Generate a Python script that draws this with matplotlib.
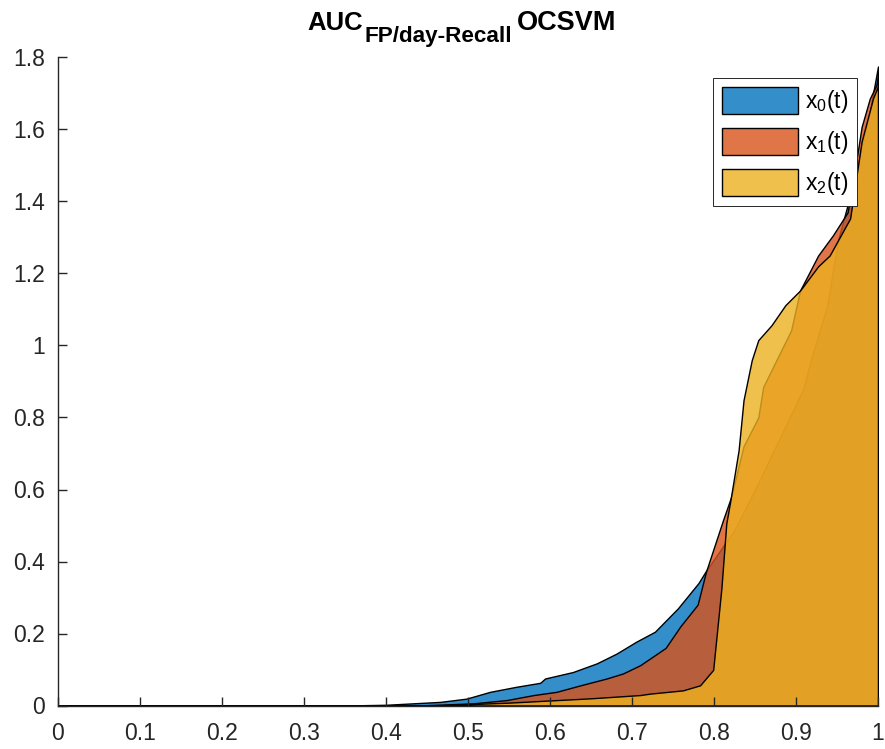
import matplotlib
matplotlib.use("Agg")
import matplotlib.pyplot as plt
from matplotlib.colors import to_rgba

# Datos (tres areas superpuestas)
x0 = [0, 0.35, 0.40, 0.433, 0.466, 0.498, 0.527, 0.559, 0.588, 0.594, 0.628, 0.657,
      0.681, 0.705, 0.728, 0.756, 0.781, 0.79, 0.825, 0.85, 0.879, 0.909, 0.919,
      0.938, 0.951, 0.97, 0.99, 1.0]
y0 = [0, 0.0, 0.002, 0.006, 0.010, 0.019, 0.038, 0.052, 0.063, 0.075, 0.093, 0.117,
      0.144, 0.177, 0.205, 0.27, 0.34, 0.373, 0.488, 0.60, 0.737, 0.88, 0.967,
      1.11, 1.29, 1.45, 1.65, 1.775]

x1 = [0, 0.40, 0.45, 0.506, 0.547, 0.580, 0.608, 0.637, 0.669, 0.689, 0.710, 0.741,
      0.759, 0.78, 0.79, 0.811, 0.821, 0.836, 0.854, 0.86, 0.894, 0.905, 0.927,
      0.945, 0.963, 0.972, 0.98, 0.99, 0.998, 1.0]
y1 = [0, 0, 0.001, 0.006, 0.015, 0.029, 0.038, 0.056, 0.075, 0.089, 0.112, 0.16,
      0.22, 0.28, 0.37, 0.515, 0.58, 0.72, 0.80, 0.885, 1.042, 1.153, 1.25,
      1.306, 1.37, 1.49, 1.607, 1.686, 1.723, 1.75]

x2 = [0, 0.46, 0.55, 0.65, 0.71, 0.722, 0.762, 0.783, 0.799, 0.809, 0.815, 0.82,
      0.830, 0.836, 0.846, 0.854, 0.870, 0.887, 0.905, 0.927, 0.941, 0.966, 0.980,
      0.994, 1.0]
y2 = [0, 0, 0.008, 0.02, 0.029, 0.033, 0.042, 0.056, 0.099, 0.325, 0.506, 0.57,
      0.709, 0.848, 0.959, 1.015, 1.056, 1.112, 1.153, 1.22, 1.25, 1.353, 1.566,
      1.687, 1.72]

labels = ["x$_0$(t)", "x$_1$(t)", "x$_2$(t)"]
colors = ["#0072BD", "#D95319", "#EDB120"]

xticks = [0, 0.1, 0.2, 0.3, 0.4, 0.5, 0.6, 0.7, 0.8, 0.9, 1]
xticklabels = ["0", "0.1", "0.2", "0.3", "0.4", "0.5", "0.6", "0.7", "0.8", "0.9", "1"]
yticks = [0, 0.2, 0.4, 0.6, 0.8, 1.0, 1.2, 1.4, 1.6, 1.8]
yticklabels = ["0", "0.2", "0.4", "0.6", "0.8", "1", "1.2", "1.4", "1.6", "1.8"]

plt.rcParams["font.family"] = ["Liberation Sans", "DejaVu Sans"]
plt.rcParams["mathtext.fontset"] = "custom"
plt.rcParams["mathtext.rm"] = "Liberation Sans"
plt.rcParams["mathtext.it"] = "Liberation Sans:italic"
plt.rcParams["mathtext.bf"] = "Liberation Sans:bold"

dark = "#262626"
W, H = 885, 749

fig = plt.figure(figsize=(W / 100, H / 100), dpi=100)
ax = fig.add_axes([58 / W, 1 - 705.5 / H, 820 / W, 648 / H])

for xs, ys, c, lab in zip([x0, x1, x2], [y0, y1, y2], colors, labels):
    ax.fill_between(xs, ys, 0, facecolor=to_rgba(c, 0.8), edgecolor="black",
                    linewidth=1.0, label=lab)

ax.set_xlim(0, 1)
ax.set_ylim(0, 1.8)
ax.set_xticks(xticks)
ax.set_xticklabels(xticklabels)
ax.set_yticks(yticks)
ax.set_yticklabels(yticklabels)
ax.spines["top"].set_visible(False)
ax.spines["right"].set_visible(False)
for s in ["left", "bottom"]:
    ax.spines[s].set_color(dark)
    ax.spines[s].set_linewidth(1.0)
ax.tick_params(direction="in", length=6.3, width=1.0, colors=dark, labelsize=16.5)
ax.tick_params(axis="x", pad=12)
ax.tick_params(axis="y", pad=9.5)

# titulo con subindice grande (estilo MATLAB), armado por piezas
renderer = fig.canvas.get_renderer()
t1 = fig.text(307 / W, 1 - 30 / H, "AUC", fontsize=18.5, fontweight="bold",
              va="baseline", ha="left")
w1 = t1.get_window_extent(renderer).width
t2 = fig.text((307 + w1 + 2) / W, 1 - 42 / H, "FP/day-Recall", fontsize=16.2,
              fontweight="bold", va="baseline", ha="left")
w2 = t2.get_window_extent(renderer).width
t3 = fig.text((307 + w1 + 2 + w2 + 5) / W, 1 - 30 / H, "OCSVM", fontsize=19.5,
              fontweight="bold", va="baseline", ha="left")

leg = ax.legend(loc="upper right", bbox_to_anchor=((857 - 58) / 820, (705.5 - 78) / 648),
                borderaxespad=0, fontsize=16.5, fancybox=False, framealpha=1,
                edgecolor=dark, handlelength=3.3, handleheight=1.45,
                handletextpad=0.3, labelspacing=0.55, borderpad=0.4)
leg.get_frame().set_linewidth(0.7)

fig.savefig("out.png", dpi=100)
